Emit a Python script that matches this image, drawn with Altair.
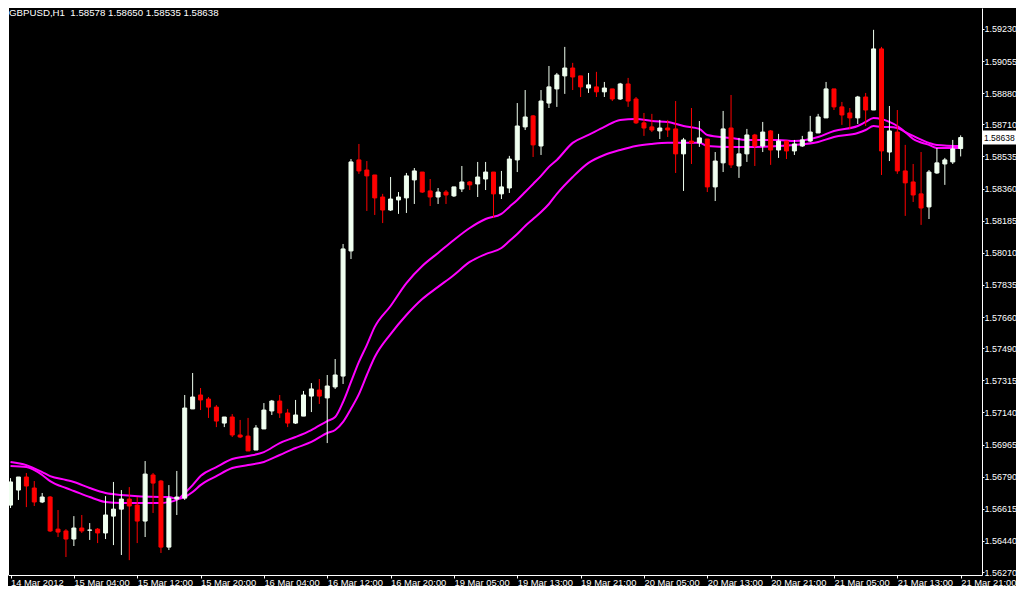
import altair as alt
import pandas as pd

# ---------------- data ----------------
symbol_header = "GBPUSD,H1"
header_ohlc = ["1.58578", "1.58650", "1.58535", "1.58638"]

opens = [1.56635, 1.56717, 1.56788, 1.56728, 1.56652, 1.56679, 1.56504, 1.56494, 1.56450, 1.56510,
         1.56498, 1.56504, 1.56483, 1.56575, 1.56613, 1.56668, 1.56635, 1.56548, 1.56799, 1.56766,
         1.56406, 1.56668, 1.56673, 1.57159, 1.57235, 1.57213, 1.57169, 1.57082, 1.57115, 1.57017,
         1.57011, 1.56935, 1.57050, 1.57148, 1.57202, 1.57137, 1.57082, 1.57120, 1.57229, 1.57262,
         1.57219, 1.57279, 1.57338, 1.58020, 1.58516, 1.58461, 1.58434, 1.58314, 1.58243, 1.58298,
         1.58309, 1.58407, 1.58450, 1.58347, 1.58314, 1.58341, 1.58320, 1.58358, 1.58396, 1.58385,
         1.58412, 1.58450, 1.58331, 1.58363, 1.58516, 1.58696, 1.58756, 1.58592, 1.58826, 1.58903,
         1.58974, 1.59017, 1.58974, 1.58908, 1.58914, 1.58887, 1.58903, 1.58848, 1.58930, 1.58848,
         1.58718, 1.58696, 1.58674, 1.58690, 1.58685, 1.58549, 1.58619, 1.58609, 1.58630, 1.58369,
         1.58500, 1.58690, 1.58483, 1.58549, 1.58652, 1.58592, 1.58674, 1.58570, 1.58619, 1.58565,
         1.58592, 1.58619, 1.58663, 1.58745, 1.58903, 1.58805, 1.58772, 1.58745, 1.58859, 1.58788,
         1.59121, 1.58559, 1.58668, 1.58456, 1.58396, 1.58331, 1.58260, 1.58445, 1.58494, 1.58505,
         1.58578]
highs = [1.56782, 1.56788, 1.56810, 1.56766, 1.56701, 1.56684, 1.56608, 1.56504, 1.56575, 1.56581,
         1.56537, 1.56510, 1.56684, 1.56761, 1.56717, 1.56733, 1.56679, 1.56875, 1.56810, 1.56772,
         1.56744, 1.56821, 1.57235, 1.57355, 1.57273, 1.57224, 1.57180, 1.57115, 1.57131, 1.57099,
         1.57110, 1.57071, 1.57191, 1.57208, 1.57235, 1.57159, 1.57208, 1.57257, 1.57300, 1.57322,
         1.57344, 1.57431, 1.58058, 1.58521, 1.58603, 1.58510, 1.58434, 1.58331, 1.58423, 1.58341,
         1.58445, 1.58472, 1.58450, 1.58412, 1.58363, 1.58352, 1.58369, 1.58483, 1.58401, 1.58505,
         1.58505, 1.58450, 1.58456, 1.58538, 1.58826, 1.58897, 1.58761, 1.58897, 1.59028, 1.58990,
         1.59132, 1.59045, 1.58974, 1.58990, 1.58996, 1.58941, 1.58903, 1.58936, 1.58963, 1.58859,
         1.58772, 1.58767, 1.58734, 1.58734, 1.58837, 1.58636, 1.58799, 1.58728, 1.58630, 1.58559,
         1.58783, 1.58870, 1.58636, 1.58685, 1.58658, 1.58723, 1.58679, 1.58658, 1.58619, 1.58625,
         1.58647, 1.58756, 1.58767, 1.58941, 1.58903, 1.58832, 1.58799, 1.58865, 1.58881, 1.59225,
         1.59132, 1.58810, 1.58788, 1.58598, 1.58494, 1.58559, 1.58461, 1.58581, 1.58527, 1.58625,
         1.58650]
lows = [1.56619, 1.56663, 1.56624, 1.56630, 1.56646, 1.56488, 1.56461, 1.56352, 1.56412, 1.56483,
        1.56445, 1.56428, 1.56450, 1.56417, 1.56363, 1.56335, 1.56428, 1.56461, 1.56592, 1.56374,
        1.56390, 1.56581, 1.56663, 1.57159, 1.57153, 1.57110, 1.57060, 1.57060, 1.57006, 1.57000,
        1.56930, 1.56935, 1.57050, 1.57126, 1.57110, 1.57060, 1.57077, 1.57120, 1.57142, 1.57186,
        1.56973, 1.57268, 1.57295, 1.57976, 1.58440, 1.58238, 1.58216, 1.58172, 1.58238, 1.58222,
        1.58227, 1.58276, 1.58336, 1.58265, 1.58276, 1.58276, 1.58314, 1.58341, 1.58352, 1.58314,
        1.58352, 1.58200, 1.58303, 1.58336, 1.58450, 1.58679, 1.58532, 1.58543, 1.58799, 1.58805,
        1.58876, 1.58897, 1.58859, 1.58881, 1.58859, 1.58859, 1.58837, 1.58843, 1.58805, 1.58712,
        1.58647, 1.58668, 1.58630, 1.58641, 1.58445, 1.58347, 1.58494, 1.58587, 1.58341, 1.58292,
        1.58450, 1.58472, 1.58418, 1.58505, 1.58483, 1.58559, 1.58489, 1.58527, 1.58521, 1.58543,
        1.58587, 1.58614, 1.58663, 1.58745, 1.58788, 1.58707, 1.58685, 1.58712, 1.58701, 1.58788,
        1.58434, 1.58510, 1.58440, 1.58211, 1.58287, 1.58162, 1.58194, 1.58440, 1.58380, 1.58494,
        1.58535]
closes = [1.56761, 1.56788, 1.56739, 1.56652, 1.56679, 1.56494, 1.56488, 1.56450, 1.56510, 1.56494,
          1.56499, 1.56483, 1.56581, 1.56613, 1.56668, 1.56630, 1.56548, 1.56804, 1.56755, 1.56406,
          1.56673, 1.56679, 1.57164, 1.57224, 1.57208, 1.57169, 1.57093, 1.57115, 1.57017, 1.57006,
          1.56930, 1.57055, 1.57153, 1.57202, 1.57137, 1.57082, 1.57126, 1.57235, 1.57268, 1.57229,
          1.57284, 1.57344, 1.58031, 1.58505, 1.58456, 1.58429, 1.58309, 1.58243, 1.58303, 1.58314,
          1.58429, 1.58456, 1.58341, 1.58314, 1.58341, 1.58325, 1.58369, 1.58396, 1.58380, 1.58423,
          1.58450, 1.58331, 1.58369, 1.58521, 1.58701, 1.58750, 1.58598, 1.58837, 1.58914, 1.58979,
          1.59017, 1.58968, 1.58914, 1.58925, 1.58887, 1.58908, 1.58848, 1.58930, 1.58837, 1.58718,
          1.58690, 1.58679, 1.58690, 1.58679, 1.58549, 1.58625, 1.58609, 1.58636, 1.58369, 1.58510,
          1.58685, 1.58489, 1.58549, 1.58652, 1.58592, 1.58668, 1.58570, 1.58619, 1.58565, 1.58603,
          1.58625, 1.58668, 1.58750, 1.58903, 1.58805, 1.58761, 1.58745, 1.58859, 1.58788, 1.59121,
          1.58565, 1.58674, 1.58456, 1.58391, 1.58325, 1.58254, 1.58450, 1.58500, 1.58516, 1.58576,
          1.58638]

# two moving averages, read at selected bars
ma_idx = [0, 2, 4, 5, 7, 8, 10, 12, 14, 19, 20, 21, 22, 23, 24, 26, 28, 30, 32, 34, 36, 38, 40,
          41, 42, 43, 44, 45, 46, 48, 50, 52, 54, 56, 58, 60, 62, 63, 64, 65, 66, 67, 68, 69, 71,
          73, 75, 77, 79, 81, 83, 85, 87, 88, 91, 93, 97, 99, 102, 104, 107, 108, 109, 110, 111,
          112, 113, 114, 116, 117, 120]
ma_fast = [1.56848, 1.56842, 1.56799, 1.56766, 1.56728, 1.56712, 1.56679, 1.56652, 1.56646, 1.56646,
           1.56652, 1.56663, 1.56701, 1.56744, 1.56793, 1.56842, 1.56886, 1.56902, 1.56924, 1.56973,
           1.57006, 1.57044, 1.57093, 1.57115, 1.57197, 1.57306, 1.57415, 1.57507, 1.57606, 1.57720,
           1.57845, 1.57938, 1.58009, 1.58080, 1.58145, 1.58194, 1.58222, 1.58260, 1.58298, 1.58341,
           1.58385, 1.58429, 1.58478, 1.58516, 1.58609, 1.58652, 1.58696, 1.58734, 1.58739, 1.58728,
           1.58723, 1.58701, 1.58685, 1.58652, 1.58636, 1.58625, 1.58625, 1.58619, 1.58641, 1.58674,
           1.58701, 1.58723, 1.58745, 1.58739, 1.58723, 1.58701, 1.58668, 1.58630, 1.58598, 1.58581,
           1.58581]
ma_slow = [1.56870, 1.56853, 1.56815, 1.56793, 1.56772, 1.56761, 1.56728, 1.56701, 1.56690, 1.56679,
           1.56679, 1.56668, 1.56679, 1.56706, 1.56744, 1.56793, 1.56837, 1.56853, 1.56870, 1.56908,
           1.56946, 1.56979, 1.57028, 1.57044, 1.57088, 1.57160, 1.57240, 1.57344, 1.57442, 1.57567,
           1.57671, 1.57758, 1.57824, 1.57889, 1.57960, 1.58003, 1.58036, 1.58074, 1.58112, 1.58156,
           1.58194, 1.58232, 1.58276, 1.58331, 1.58423, 1.58500, 1.58543, 1.58570, 1.58592, 1.58603,
           1.58609, 1.58609, 1.58609, 1.58592, 1.58587, 1.58587, 1.58592, 1.58598, 1.58614, 1.58641,
           1.58663, 1.58679, 1.58701, 1.58696, 1.58696, 1.58690, 1.58668, 1.58647, 1.58609, 1.58598,
           1.58592]

y_ticks = [1.59230, 1.59055, 1.58880, 1.58710, 1.58535, 1.58360, 1.58185, 1.58010, 1.57835,
           1.57660, 1.57490, 1.57315, 1.57140, 1.56965, 1.56790, 1.56615, 1.56440, 1.56270]
x_tick_idx = list(range(0, 121, 8))
x_tick_labels = ["14 Mar 2012", "15 Mar 04:00", "15 Mar 12:00", "15 Mar 20:00", "16 Mar 04:00",
                 "16 Mar 12:00", "16 Mar 20:00", "19 Mar 05:00", "19 Mar 13:00", "19 Mar 21:00",
                 "20 Mar 05:00", "20 Mar 13:00", "20 Mar 21:00", "21 Mar 05:00", "21 Mar 13:00",
                 "21 Mar 21:00"]

price_domain = [1.56254, 1.59344]
idx_domain = [0.3125, 122.0625]

# ---------------- tables ----------------
candles = pd.DataFrame({
    "idx": list(range(len(opens))),
    "open": opens, "high": highs, "low": lows, "close": closes,
})
candles["dir"] = ["up" if c >= o else "down" for o, c in zip(opens, closes)]

ma = pd.DataFrame({
    "idx": ma_idx * 2,
    "price": ma_fast + ma_slow,
    "line": ["fast"] * len(ma_idx) + ["slow"] * len(ma_idx),
})

header = pd.DataFrame({"t": [symbol_header + "\u00a0 " + " ".join(header_ohlc)]})
last = pd.DataFrame({"price": [closes[-1]], "label": [header_ohlc[3]]})

FONT = "Liberation Sans"
WHITE = "#FFFFFF"
BULL = "#F0FFF0"
BEAR = "#FF0000"
MAGENTA = "#FF00FF"

label_js = "[" + ",".join("'" + s + "'" for s in x_tick_labels) + "][round(datum.value/8)]"

x_scale = alt.Scale(domain=idx_domain, nice=False, zero=False)
y_scale = alt.Scale(domain=price_domain, nice=False, zero=False)
x_axis = alt.Axis(values=x_tick_idx, labelExpr=label_js, title=None, orient="bottom",
                  labelAlign="left", labelBaseline="top", labelPadding=0, tickSize=3,
                  labelFontSize=9.4, labelOverlap=False, labelFlush=False)
y_axis = alt.Axis(values=y_ticks, format=".5f", title=None, orient="right",
                  labelAlign="left", labelBaseline="middle", labelPadding=0, tickSize=2,
                  labelFontSize=9, labelOverlap=False, labelFlush=False)

X = alt.X("idx:Q", scale=x_scale, axis=x_axis)
dir_scale = alt.Scale(domain=["up", "down"], range=[BULL, BEAR])

base = alt.Chart(candles)

lines = alt.Chart(ma).mark_line(color=MAGENTA, strokeWidth=2, interpolate="monotone", clip=True).encode(
    x=X,
    y=alt.Y("price:Q", scale=y_scale, axis=y_axis),
    detail="line:N",
)

wicks = base.mark_rule(strokeWidth=1, clip=True).encode(
    x=X,
    y=alt.Y("low:Q", scale=y_scale, axis=y_axis),
    y2="high:Q",
    color=alt.Color("dir:N", scale=dir_scale, legend=None),
)

bodies = base.mark_bar(size=4, strokeWidth=1, clip=True).encode(
    x=X,
    y=alt.Y("open:Q", scale=y_scale, axis=y_axis),
    y2="close:Q",
    color=alt.Color("dir:N", scale=dir_scale, legend=None),
    stroke=alt.Stroke("dir:N", scale=dir_scale, legend=None),
)

left_border = alt.Chart(header).mark_rule(color=WHITE, strokeWidth=1).encode(
    x=alt.value(0.5), y=alt.value(0), y2=alt.value(567)
)

title_text = alt.Chart(header).mark_text(
    align="left", baseline="alphabetic", color=WHITE, font=FONT, fontSize=9.7
).encode(x=alt.value(1), y=alt.value(7.5), text="t:N")

price_box = alt.Chart(last).mark_rect(color=WHITE, yOffset=-7, y2Offset=7).encode(
    x=alt.value(975), x2=alt.value(1008),
    y=alt.Y("price:Q", scale=y_scale, axis=y_axis),
    y2="price:Q",
)
price_text = alt.Chart(last).mark_text(
    align="left", baseline="middle", color="#000000", font=FONT, fontSize=8.5
).encode(
    x=alt.value(976),
    y=alt.Y("price:Q", scale=y_scale, axis=y_axis),
    text="label:N",
)

chart = alt.layer(
    lines, wicks, bodies, left_border, title_text, price_box, price_text
).properties(
    width=974, height=567,
    autosize=alt.AutoSizeParams(type="none"),
    padding={"left": 0, "top": 0, "right": 34, "bottom": 11},
    background="#000000",
).configure_view(
    stroke=None, fill="#000000"
).configure_axis(
    grid=False, domainColor=WHITE, tickColor=WHITE, labelColor=WHITE,
    labelFont=FONT, domainWidth=1, tickWidth=1,
)

chart.save("out.html", embed_options={"renderer": "svg", "actions": False})
